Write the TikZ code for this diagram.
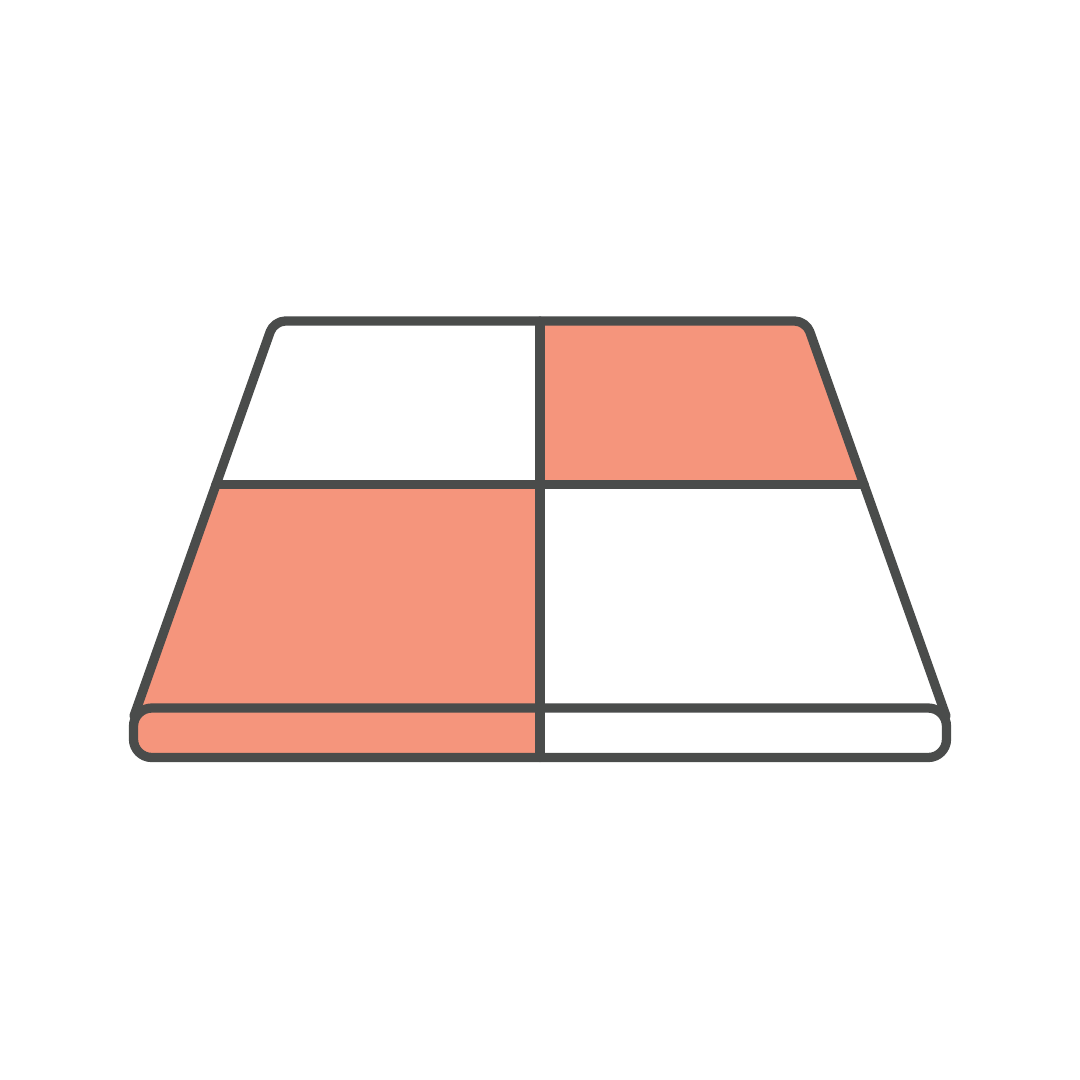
\documentclass[tikz,border=0pt]{standalone}
\usetikzlibrary{calc}

\definecolor{tileink}{HTML}{4A4C4B}
\definecolor{tilesalmon}{HTML}{F5957C}

\begin{document}
\begin{tikzpicture}[
  x=0.025cm, y=-0.025cm,
  edge/.style={tileink, line width=6.6pt, line join=round, line cap=round},
  tile/.style={fill=tilesalmon},
]
\useasboundingbox (0,0) rectangle (1080,1080);

% === corners of the floor ===
\coordinate (tl) at (274,321);
\coordinate (tr) at (806,321);
\coordinate (tm) at (540,321);
\coordinate (ml) at (215.7,484.5);
\coordinate (mr) at (864.3,484.5);
\coordinate (mm) at (540,484.5);
\coordinate (bl) at (136,708);
\coordinate (br) at (944,708);
\coordinate (bm) at (540,708);
\coordinate (sl) at (134,716);
\coordinate (sr) at (946,716);
\coordinate (baseA) at (133.5,708);
\coordinate (baseB) at (946.5,757.5);
\coordinate (basem) at (540,757.5);

% === salmon tiles ===
\fill[tile, rounded corners=8] (tm) -- (tr) -- (mr) -- (mm) -- cycle;
\fill[tile] (ml) -- (mm) -- (bm) -- (bl) -- cycle;
\begin{scope}
  \clip (0,0) rectangle (540,1080);
  \fill[tile, rounded corners=13] (baseA) rectangle (baseB);
\end{scope}

% === outlines ===
\draw[edge, rounded corners=8] (sl) -- (tl) -- (tr) -- (sr);
\draw[edge, rounded corners=13] (baseA) rectangle (baseB);
\draw[edge] (ml) -- (mr);
\draw[edge] (tm) -- (basem);
\end{tikzpicture}
\end{document}
